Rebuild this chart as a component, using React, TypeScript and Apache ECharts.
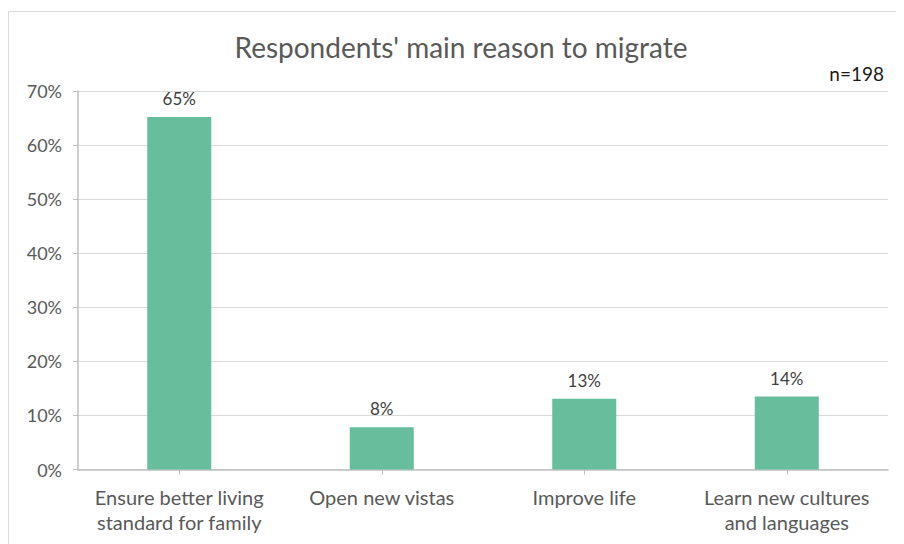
import React, { useEffect, useRef } from "react";
import * as echarts from "echarts";

const categories = [
  "Ensure better living\nstandard for family",
  "Open new vistas",
  "Improve life",
  "Learn new cultures\nand languages",
];
const values = [65.2, 7.8, 13.1, 13.5];
const titleText = "Respondents' main reason to migrate";
const noteText = "n=198";

const FONT = "Lato, 'Open Sans', sans-serif";

export default function App() {
  const ref = useRef<HTMLDivElement>(null);
  useEffect(() => {
    if (!ref.current) return;
    const chart = echarts.init(ref.current, undefined, { renderer: "svg" });
    chart.setOption({
      animation: false,
      backgroundColor: "#ffffff",
      textStyle: { fontFamily: FONT },
      graphic: [
        {
          type: "line",
          shape: { x1: 0.5, y1: 3.5, x2: 900, y2: 3.5 },
          style: { stroke: "#d9d9d9", lineWidth: 1 },
        },
        {
          type: "line",
          shape: { x1: 0.5, y1: 3.5, x2: 0.5, y2: 540 },
          style: { stroke: "#d9d9d9", lineWidth: 1 },
        },
        {
          type: "text",
          x: 453,
          y: 39,
          style: {
            text: titleText,
            fontSize: 28,
            fontFamily: FONT,
            fill: "#595959",
            align: "center",
            verticalAlign: "middle",
          },
        },
        {
          type: "text",
          x: 876,
          y: 65,
          style: {
            text: noteText,
            fontSize: 19,
            fontFamily: FONT,
            fill: "#1a1a1a",
            align: "right",
            verticalAlign: "middle",
          },
        },
      ],
      grid: { left: 70, right: 16, top: 83, bottom: 74.5, containLabel: false },
      xAxis: {
        type: "category",
        data: categories,
        boundaryGap: true,
        axisLine: { lineStyle: { color: "#bfbfbf", width: 1.5 } },
        axisTick: { show: true, alignWithLabel: true, length: 5, lineStyle: { color: "#bfbfbf" } },
        axisLabel: {
          color: "#595959",
          fontSize: 20,
          lineHeight: 25,
          margin: 15,
          fontFamily: FONT,
          interval: 0,
        },
      },
      yAxis: {
        type: "value",
        min: 0,
        max: 70,
        interval: 10,
        axisLine: { show: true, lineStyle: { color: "#bfbfbf", width: 1.5 } },
        axisTick: { show: true, length: 5, lineStyle: { color: "#bfbfbf" } },
        splitLine: { lineStyle: { color: "#d9d9d9", width: 1 } },
        axisLabel: {
          color: "#595959",
          fontSize: 18,
          margin: 16,
          fontFamily: FONT,
          formatter: (v: number) => `${v}%`,
        },
      },
      series: [
        {
          type: "bar",
          data: values,
          barWidth: 64,
          itemStyle: { color: "#66BE9C" },
          label: {
            show: true,
            position: "top",
            distance: 10,
            color: "#404040",
            fontSize: 17,
            fontFamily: FONT,
            formatter: (p: any) => `${Math.round(p.value)}%`,
          },
        },
      ],
    });
    return () => chart.dispose();
  }, []);
  return <div ref={ref} style={{ width: 896, height: 536 }} />;
}
